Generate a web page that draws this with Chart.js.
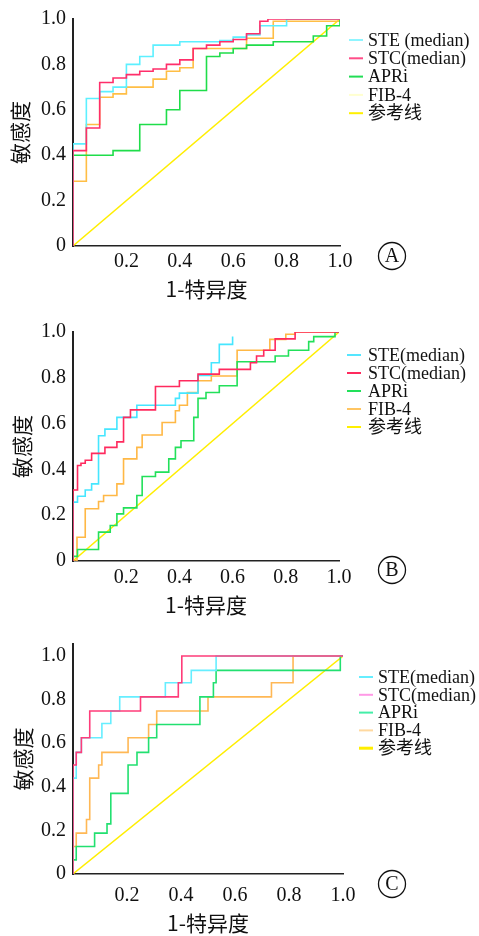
<!DOCTYPE html>
<html><head><meta charset="utf-8">
<script src="https://cdn.jsdelivr.net/npm/chart.js@4.4.1/dist/chart.umd.min.js"></script>
<style>
html,body{margin:0;padding:0;background:#fff;width:479px;height:936px;overflow:hidden}
canvas{position:absolute;left:0}
</style></head>
<body>
<canvas id="cA" width="479" height="310" style="top:0"></canvas>
<canvas id="cB" width="479" height="310" style="top:310px"></canvas>
<canvas id="cC" width="479" height="316" style="top:620px"></canvas>
<script>
// ---- data (x = 1-特异度, y = 敏感度) ----
const seriesNamesA = ['STE (median)', 'STC(median)', 'APRi', 'FIB-4', '参考线'];
const seriesNamesBC = ['STE(median)', 'STC(median)', 'APRi', 'FIB-4', '参考线'];
const panelLabels = ['A', 'B', 'C'];
const xTickVals = [0.2, 0.4, 0.6, 0.8, 1.0];
const xTickLabels = ['0.2', '0.4', '0.6', '0.8', '1.0'];
const yTickVals = [0, 0.2, 0.4, 0.6, 0.8, 1.0];
const yTickLabels = ['0', '0.2', '0.4', '0.6', '0.8', '1.0'];
const xAxisTitle = '1-特异度';
const yAxisTitle = '敏感度';
const refLine = [[0, 0], [1, 1]];

// Panel A
const aSTE = [[0,0],[0,0.45],[0.05,0.65],[0.1,0.68],[0.15,0.70],[0.2,0.80],[0.25,0.835],[0.3,0.885],[0.4,0.90],[0.55,0.905],[0.6,0.92],[0.65,0.93],[0.7,0.97],[0.8,1.0],[1.0,1.0]];
const aSTC = [[0,0],[0,0.42],[0.05,0.52],[0.1,0.72],[0.15,0.74],[0.2,0.755],[0.25,0.77],[0.3,0.78],[0.35,0.80],[0.4,0.82],[0.45,0.87],[0.5,0.885],[0.55,0.90],[0.6,0.91],[0.65,0.935],[0.7,0.99],[0.73,1.0],[1.0,1.0]];
const aAPRi = [[0,0],[0,0.40],[0.15,0.42],[0.25,0.535],[0.35,0.60],[0.4,0.685],[0.5,0.835],[0.55,0.85],[0.6,0.87],[0.65,0.885],[0.75,0.90],[0.9,0.925],[0.95,0.97],[1.0,1.0]];
const aFIB4 = [[0,0],[0,0.285],[0.05,0.535],[0.1,0.655],[0.15,0.67],[0.2,0.70],[0.3,0.735],[0.35,0.77],[0.4,0.785],[0.45,0.87],[0.65,0.915],[0.75,0.99],[1.0,1.0]];

// Panel B
const bSTE = [[0,0],[0,0.257],[0.017,0.283],[0.046,0.31],[0.07,0.337],[0.096,0.547],[0.12,0.576],[0.165,0.627],[0.24,0.68],[0.385,0.71],[0.40,0.733],[0.47,0.81],[0.52,0.866],[0.55,0.946],[0.6,0.98]];
const bSTC = [[0,0],[0,0.31],[0.017,0.417],[0.03,0.427],[0.046,0.44],[0.07,0.47],[0.12,0.496],[0.165,0.52],[0.19,0.627],[0.216,0.66],[0.31,0.762],[0.40,0.787],[0.47,0.816],[0.55,0.837],[0.667,0.866],[0.69,0.895],[0.717,0.92],[0.76,0.97],[0.835,1.0],[1.0,1.0]];
const bAPRi = [[0,0],[0,0.02],[0.017,0.05],[0.096,0.126],[0.14,0.155],[0.165,0.206],[0.19,0.232],[0.24,0.286],[0.26,0.369],[0.31,0.388],[0.36,0.446],[0.385,0.496],[0.406,0.525],[0.454,0.627],[0.47,0.71],[0.50,0.736],[0.55,0.765],[0.617,0.87],[0.76,0.895],[0.81,0.92],[0.886,0.958],[0.905,0.98],[0.985,1.0],[1.0,1.0]];
const bFIB4 = [[0,0],[0.015,0.104],[0.046,0.228],[0.096,0.26],[0.115,0.286],[0.165,0.337],[0.19,0.446],[0.24,0.496],[0.26,0.55],[0.335,0.605],[0.385,0.656],[0.40,0.68],[0.43,0.736],[0.47,0.787],[0.52,0.808],[0.617,0.92],[0.74,0.968],[0.80,0.99],[0.835,1.0],[1.0,1.0]];

// Panel C
const cSTE = [[0,0],[0,0.44],[0.012,0.558],[0.031,0.625],[0.107,0.69],[0.14,0.748],[0.173,0.8125],[0.342,0.877],[0.438,0.934],[0.53,1.0],[1.0,1.0]];
const cSTC = [[0,0],[0,0.50],[0.012,0.558],[0.031,0.625],[0.062,0.748],[0.25,0.8125],[0.39,0.877],[0.403,1.0],[1.0,1.0]];
const cAPRi = [[0,0],[0,0.065],[0.012,0.126],[0.08,0.1875],[0.126,0.23],[0.14,0.37],[0.204,0.50],[0.237,0.558],[0.28,0.625],[0.31,0.686],[0.47,0.8125],[0.52,0.877],[0.53,0.934],[0.99,1.0],[1.0,1.0]];
const cFIB4 = [[0,0],[0,0.126],[0.012,0.1875],[0.05,0.25],[0.062,0.44],[0.095,0.50],[0.107,0.558],[0.204,0.625],[0.28,0.686],[0.31,0.748],[0.5,0.8125],[0.735,0.877],[0.815,1.0],[1.0,1.0]];

// ---- styling / layout ----
const SERIF = '"Liberation Serif", "Times New Roman", "Noto Sans CJK SC", serif';
const CJK = '"Noto Sans CJK SC", "Liberation Serif", serif';

const panels = [
  { id:'cA', H:310, l:73, r:340, t:15, b:246, ymax:1.0, xPad:4, xTitlePb:8.4, yTitlePt:7.4,
    names: seriesNamesA, series:[aSTE, aSTC, aAPRi, aFIB4, refLine],
    colors:['#5CF0FF','#FF2E6A','#1FDD4A','#FFBE45','#FFEE00'],
    legendColors:['#8FF5FF','#FF4D88','#22DD55','#FFFFD0','#FFF000'],
    legend:{lineX:349, textX:368, y0:40, dy:18.3}, circle:{x:392, y:256} },
  { id:'cB', H:310, l:73, r:339, t:22, b:251, ymax:1.0, xPad:5, xTitlePb:2.4, yTitlePt:9.4,
    names: seriesNamesBC, series:[bSTE, bSTC, bAPRi, bFIB4, refLine],
    colors:['#45E6FF','#FF2A5E','#22E05A','#FFB845','#FFEE00'],
    legendColors:['#55E6FF','#FF2A5E','#22E05A','#FFC562','#FFF000'],
    legend:{lineX:347, textX:368, y0:45, dy:18}, circle:{x:392, y:260} },
  { id:'cC', H:316, l:73, r:343, t:24, b:254, ymax:1.055, xPad:10, xTitlePb:0.4, yTitlePt:10.4,
    names: seriesNamesBC, series:[cSTE, cSTC, cAPRi, cFIB4, refLine],
    colors:['#66EEFF','#FF3C7A','#22E070','#FFB855','#FFEE00'],
    legendColors:['#66EEFF','#FF99E6','#44EEA8','#FFD9A0','#FFEE00'],
    legend:{lineX:359, textX:378, y0:57, dy:17.8}, circle:{x:392, y:264} }
];

const drawOrder = [1, 0, 2, 3, 4];

const decorPlugin = {
  id: 'decor',
  afterDraw(chart, args, opts) {
    const ctx = chart.ctx;
    const lg = opts.legend;
    ctx.save();
    chart.data.datasets.forEach((ds, i) => {
      const y = lg.y0 + i * lg.dy;
      ctx.strokeStyle = opts.legendColors[i];
      ctx.lineWidth = (i === 4 && opts.thickRef) ? 3 : 2;
      ctx.beginPath();
      ctx.moveTo(lg.lineX, y);
      ctx.lineTo(lg.lineX + 14, y);
      ctx.stroke();
      ctx.fillStyle = '#111';
      ctx.font = '18px ' + SERIF;
      ctx.textAlign = 'left';
      ctx.textBaseline = 'middle';
      ctx.fillText(ds.label, lg.textX, y + 1);
    });
    const c = opts.circle;
    ctx.strokeStyle = '#111';
    ctx.lineWidth = 1.3;
    ctx.beginPath();
    ctx.arc(c.x, c.y, 13.5, 0, Math.PI * 2);
    ctx.stroke();
    ctx.fillStyle = '#111';
    ctx.font = '20px ' + SERIF;
    ctx.textAlign = 'center';
    ctx.textBaseline = 'middle';
    ctx.fillText(opts.label, c.x, c.y + 1);
    ctx.restore();
  }
};

panels.forEach((p, pi) => {
  const datasets = p.series.map((pts, i) => ({
    label: p.names[i],
    data: pts.map(([x, y]) => ({ x, y })),
    borderColor: p.colors[i],
    backgroundColor: p.colors[i],
    borderWidth: i === 4 ? 1.4 : 1.6,
    pointRadius: 0,
    fill: false,
    stepped: i === 4 ? false : 'before',
    tension: 0,
    order: drawOrder[i]
  }));
  new Chart(document.getElementById(p.id), {
    type: 'line',
    data: { datasets },
    plugins: [decorPlugin],
    options: {
      responsive: false,
      animation: false,
      devicePixelRatio: 1,
      layout: { padding: { left: 0, top: p.t, right: 479 - p.r, bottom: 0 } },
      plugins: {
        legend: { display: false },
        tooltip: { enabled: false },
        decor: { legend: p.legend, legendColors: p.legendColors, circle: p.circle,
                 label: panelLabels[pi], thickRef: pi === 2 }
      },
      scales: {
        x: {
          type: 'linear', min: 0, max: 1,
          grid: { display: false, drawTicks: false },
          border: { display: true, color: '#222', width: 1.6 },
          afterFit: (s) => { s.height = p.H - p.b; },
          afterBuildTicks: (s) => { s.ticks = xTickVals.map(v => ({ value: v })); },
          ticks: {
            autoSkip: false, maxRotation: 0, padding: p.xPad, color: '#111',
            font: { family: SERIF, size: 20 },
            callback: (v, i) => xTickLabels[i]
          },
          title: { display: true, text: xAxisTitle, color: '#111',
                   font: { family: CJK, size: 21 },
                   padding: { top: 0, bottom: p.xTitlePb } }
        },
        y: {
          type: 'linear', min: 0, max: p.ymax,
          grid: { display: false, drawTicks: false },
          border: { display: true, color: '#222', width: 2 },
          afterFit: (s) => { s.width = p.l; },
          afterBuildTicks: (s) => { s.ticks = yTickVals.map(v => ({ value: v })); },
          ticks: {
            autoSkip: false, padding: 7, color: '#111',
            font: { family: SERIF, size: 20 },
            callback: (v, i) => yTickLabels[i]
          },
          title: { display: true, text: yAxisTitle, color: '#111',
                   font: { family: CJK, size: 21 },
                   padding: { top: p.yTitlePt, bottom: 0 } }
        }
      }
    }
  });
});
</script>
</body></html>
